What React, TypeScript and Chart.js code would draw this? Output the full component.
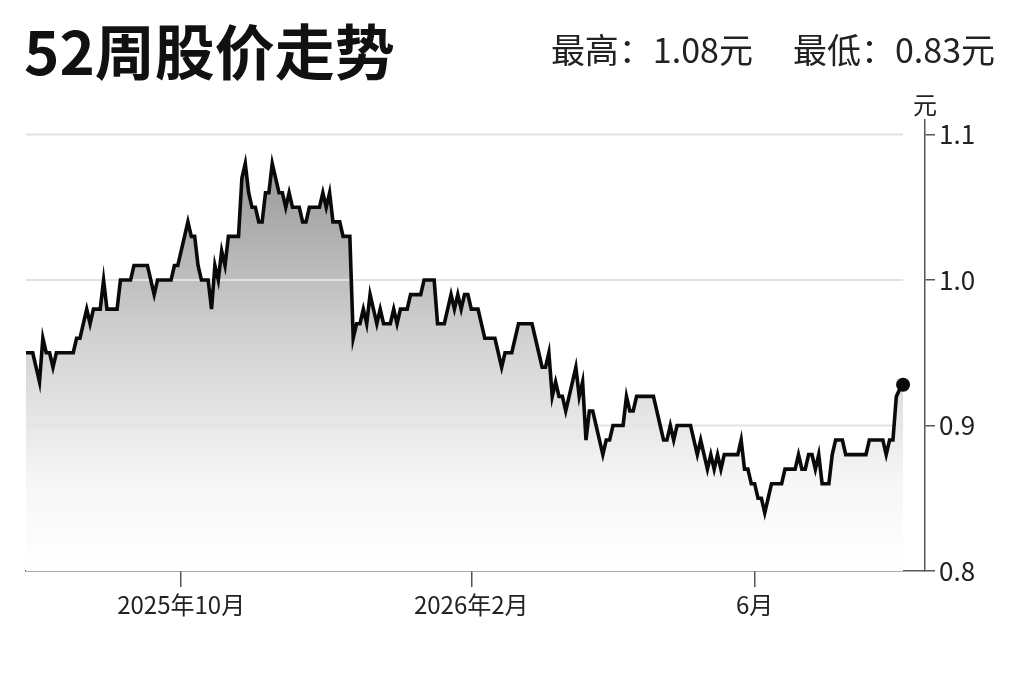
import React, { useEffect, useRef } from "react";
import { Chart, registerables } from "chart.js";

Chart.register(...registerables);

const TITLE = "52周股价走势";
const HIGH_TEXT = "最高：1.08元";
const LOW_TEXT = "最低：0.83元";
const UNIT = "元";

// daily closing prices (trading days)
const prices: number[] = [
  0.95, 0.95, 0.95, 0.94, 0.93, 0.96, 0.95, 0.95, 0.94, 0.95,
  0.95, 0.95, 0.95, 0.95, 0.95, 0.96, 0.96, 0.97, 0.98, 0.97,
  0.98, 0.98, 0.98, 1.00, 0.98, 0.98, 0.98, 0.98, 1.00, 1.00,
  1.00, 1.00, 1.01, 1.01, 1.01, 1.01, 1.01, 1.00, 0.99, 1.00,
  1.00, 1.00, 1.00, 1.00, 1.01, 1.01, 1.02, 1.03, 1.04, 1.03,
  1.03, 1.01, 1.00, 1.00, 1.00, 0.98, 1.01, 1.00, 1.02, 1.01,
  1.03, 1.03, 1.03, 1.03, 1.07, 1.08, 1.06, 1.05, 1.05, 1.04,
  1.04, 1.06, 1.06, 1.08, 1.07, 1.06, 1.06, 1.05, 1.06, 1.05,
  1.05, 1.05, 1.04, 1.04, 1.05, 1.05, 1.05, 1.05, 1.06, 1.05,
  1.06, 1.04, 1.04, 1.04, 1.03, 1.03, 1.03, 0.96, 0.97, 0.97,
  0.98, 0.97, 0.99, 0.98, 0.97, 0.98, 0.97, 0.97, 0.97, 0.98,
  0.97, 0.98, 0.98, 0.98, 0.99, 0.99, 0.99, 0.99, 1.00, 1.00,
  1.00, 1.00, 0.97, 0.97, 0.97, 0.98, 0.99, 0.98, 0.99, 0.98,
  0.99, 0.99, 0.98, 0.98, 0.98, 0.97, 0.96, 0.96, 0.96, 0.96,
  0.95, 0.94, 0.95, 0.95, 0.95, 0.96, 0.97, 0.97, 0.97, 0.97,
  0.97, 0.96, 0.95, 0.94, 0.94, 0.95, 0.92, 0.93, 0.92, 0.92,
  0.91, 0.92, 0.93, 0.94, 0.92, 0.93, 0.89, 0.91, 0.91, 0.90,
  0.89, 0.88, 0.89, 0.89, 0.90, 0.90, 0.90, 0.90, 0.92, 0.91,
  0.91, 0.92, 0.92, 0.92, 0.92, 0.92, 0.92, 0.91, 0.90, 0.89,
  0.89, 0.90, 0.89, 0.90, 0.90, 0.90, 0.90, 0.90, 0.89, 0.88,
  0.89, 0.88, 0.87, 0.88, 0.87, 0.88, 0.87, 0.88, 0.88, 0.88,
  0.88, 0.88, 0.89, 0.87, 0.87, 0.86, 0.86, 0.85, 0.85, 0.84,
  0.85, 0.86, 0.86, 0.86, 0.86, 0.87, 0.87, 0.87, 0.87, 0.88,
  0.87, 0.87, 0.88, 0.88, 0.87, 0.88, 0.86, 0.86, 0.86, 0.88,
  0.89, 0.89, 0.89, 0.88, 0.88, 0.88, 0.88, 0.88, 0.88, 0.88,
  0.89, 0.89, 0.89, 0.89, 0.89, 0.88, 0.89, 0.89, 0.92, 0.925,
  0.928,
];

// x tick positions (trading-day index of first day of month) and labels
const monthTickIndex: number[] = [46, 132, 216];
const monthTickLabels: string[] = ["2025年10月", "2026年2月", "6月"];

// y axis ticks
const yTicks: number[] = [0.8, 0.9, 1.0, 1.1];
const gridValues: number[] = [0.9, 1.0, 1.1];

const FONT = "'Noto Sans CJK SC', 'Noto Sans', sans-serif";

export default function App() {
  const canvasRef = useRef<HTMLCanvasElement | null>(null);

  useEffect(() => {
    const canvas = canvasRef.current;
    if (!canvas) return;
    const lastIdx = prices.length - 1;

    const gridPlugin = {
      id: "customGrid",
      beforeDatasetDraw(chart: any) {
        const { ctx, chartArea, scales } = chart;
        const xEnd = scales.x.getPixelForValue(lastIdx);
        ctx.save();
        ctx.strokeStyle = "#e2e2e2";
        ctx.lineWidth = 2;
        gridValues.forEach((v) => {
          const y = scales.y.getPixelForValue(v);
          ctx.beginPath();
          ctx.moveTo(chartArea.left, y);
          ctx.lineTo(xEnd, y);
          ctx.stroke();
        });
        ctx.restore();
      },
    };

    const chart = new Chart(canvas, {
      type: "line",
      data: {
        datasets: [
          {
            data: prices.map((y, i) => ({ x: i, y })),
            borderColor: "#0a0a0a",
            borderWidth: 3.6,
            tension: 0,
            fill: "start",
            backgroundColor: (ctx: any) => {
              const { chart } = ctx;
              const area = chart.chartArea;
              if (!area) return "rgba(0,0,0,0)";
              const g = chart.ctx.createLinearGradient(0, area.top, 0, area.bottom);
              g.addColorStop(0, "#8a8a8a");
              g.addColorStop(0.45, "#cdcdcd");
              g.addColorStop(0.8, "#f6f6f6");
              g.addColorStop(1, "#ffffff");
              return g;
            },
            pointRadius: (ctx: any) => (ctx.dataIndex === lastIdx ? 7 : 0),
            pointBackgroundColor: "#0a0a0a",
            pointBorderWidth: 0,
            pointHoverRadius: 0,
          },
        ],
      },
      options: {
        animation: false,
        responsive: false,
        maintainAspectRatio: false,
        layout: { padding: { left: 26, top: 120, right: 0, bottom: 0 } },
        plugins: {
          legend: { display: false },
          tooltip: { enabled: false },
        },
        scales: {
          x: {
            type: "linear",
            min: 0,
            max: lastIdx * 1.025,
            afterBuildTicks: (scale: any) => {
              scale.ticks = monthTickIndex.map((v) => ({ value: v }));
            },
            afterFit: (scale: any) => {
              scale.height = 111;
            },
            ticks: {
              autoSkip: false,
              maxRotation: 0,
              padding: 3,
              color: "#222222",
              font: { family: FONT, size: 24 },
              callback: (_v: any, i: number) => monthTickLabels[i],
            },
            grid: {
              display: true,
              drawOnChartArea: false,
              drawTicks: true,
              tickLength: 16,
              color: "#555555",
              lineWidth: 1.5,
            },
            border: { display: true, color: "#555555", width: 1.5 },
          },
          y: {
            position: "right",
            min: 0.8,
            max: 1.11,
            afterBuildTicks: (scale: any) => {
              scale.ticks = yTicks.map((v) => ({ value: v }));
            },
            afterFit: (scale: any) => {
              scale.width = 98;
            },
            ticks: {
              padding: 4,
              color: "#222222",
              font: { family: FONT, size: 26 },
              callback: (v: any) => Number(v).toFixed(1),
            },
            grid: {
              display: true,
              drawOnChartArea: false,
              drawTicks: true,
              tickLength: 10,
              color: "#555555",
              lineWidth: 1.5,
            },
            border: { display: true, color: "#555555", width: 1.5 },
          },
        },
      },
      plugins: [gridPlugin],
    } as any);

    return () => chart.destroy();
  }, []);

  return (
    <div
      style={{
        position: "absolute",
        left: 0,
        top: 0,
        width: 1023,
        height: 682,
        background: "#ffffff",
        overflow: "hidden",
        fontFamily: FONT,
        color: "#1a1a1a",
      }}
    >
      <canvas
        ref={canvasRef}
        width={1023}
        height={682}
        style={{ position: "absolute", left: 0, top: 0, width: 1023, height: 682 }}
      />
      <div
        style={{
          position: "absolute",
          left: 24,
          top: 19,
          fontSize: 60,
          fontWeight: 700,
          lineHeight: "60px",
          whiteSpace: "nowrap",
          color: "#111111",
        }}
      >
        {TITLE}
      </div>
      <div
        style={{
          position: "absolute",
          right: 28,
          top: 32,
          fontSize: 34,
          fontWeight: 400,
          lineHeight: "34px",
          whiteSpace: "nowrap",
          color: "#222222",
        }}
      >
        <span>{HIGH_TEXT}</span>
        <span style={{ marginLeft: 40 }}>{LOW_TEXT}</span>
      </div>
      <div
        style={{
          position: "absolute",
          left: 913,
          top: 92,
          fontSize: 24,
          lineHeight: "24px",
          color: "#222222",
        }}
      >
        {UNIT}
      </div>
    </div>
  );
}
